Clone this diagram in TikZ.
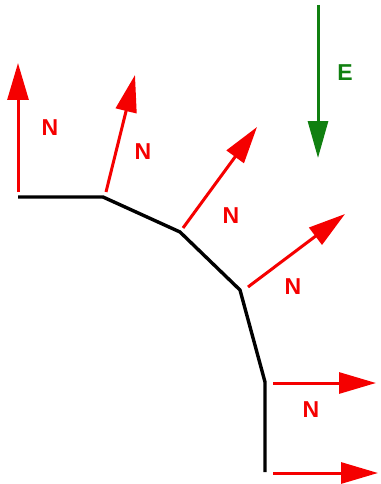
\documentclass[tikz,border=0pt]{standalone}
\usepackage{fontspec}
\setmainfont{Liberation Sans}
\usetikzlibrary{arrows.meta}
\definecolor{nred}{RGB}{245,0,0}
\definecolor{egreen}{RGB}{16,128,16}
\tikzset{
  normal/.style={draw=nred,line width=3pt,-{Triangle[length=37pt,width=21pt]}},
  field/.style={draw=egreen,line width=3pt,-{Triangle[length=37pt,width=20pt]}},
  nlabel/.style={text=nred,font=\fontsize{23}{23}\selectfont\bfseries,inner sep=0pt},
  elabel/.style={text=egreen,font=\fontsize{23}{23}\selectfont\bfseries,inner sep=0pt},
  surface/.style={draw=black,line width=3.4pt,line join=round}
}
\begin{document}
\begin{tikzpicture}[x=1pt,y=-1pt]
\useasboundingbox (0,0) rectangle (380,484);
% surface vertices
\coordinate (p0) at (18,197);
\coordinate (p1) at (103,197);
\coordinate (p2) at (180,232);
\coordinate (p3) at (240,290);
\coordinate (p4) at (265,382);
\coordinate (p5) at (265,472);
\draw[surface] (p0) -- (p1) -- (p2) -- (p3) -- (p4) -- (p5);
% normal arrows
\coordinate (s0) at (18,192);  \coordinate (t0) at (18,63);
\coordinate (s1) at (106,192); \coordinate (t1) at (135,75);
\coordinate (s2) at (183,228); \coordinate (t2) at (257,127);
\coordinate (s3) at (248,287); \coordinate (t3) at (345,214);
\coordinate (s4) at (273,383); \coordinate (t4) at (376,383);
\coordinate (s5) at (273,473); \coordinate (t5) at (378,473);
\draw[normal] (s0) -- (t0);
\draw[normal] (s1) -- (t1);
\draw[normal] (s2) -- (t2);
\draw[normal] (s3) -- (t3);
\draw[normal] (s4) -- (t4);
\draw[normal] (s5) -- (t5);
% field arrow
\coordinate (e0) at (318,5); \coordinate (e1) at (318,158);
\draw[field] (e0) -- (e1);
% labels
\node[nlabel] (n0) at (50,128) {N};
\node[nlabel] (n1) at (143,152) {N};
\node[nlabel] (n2) at (231,216) {N};
\node[nlabel] (n3) at (293,287) {N};
\node[nlabel] (n4) at (311,410) {N};
\node[elabel] (le) at (345,73) {E};
\end{tikzpicture}
\end{document}
